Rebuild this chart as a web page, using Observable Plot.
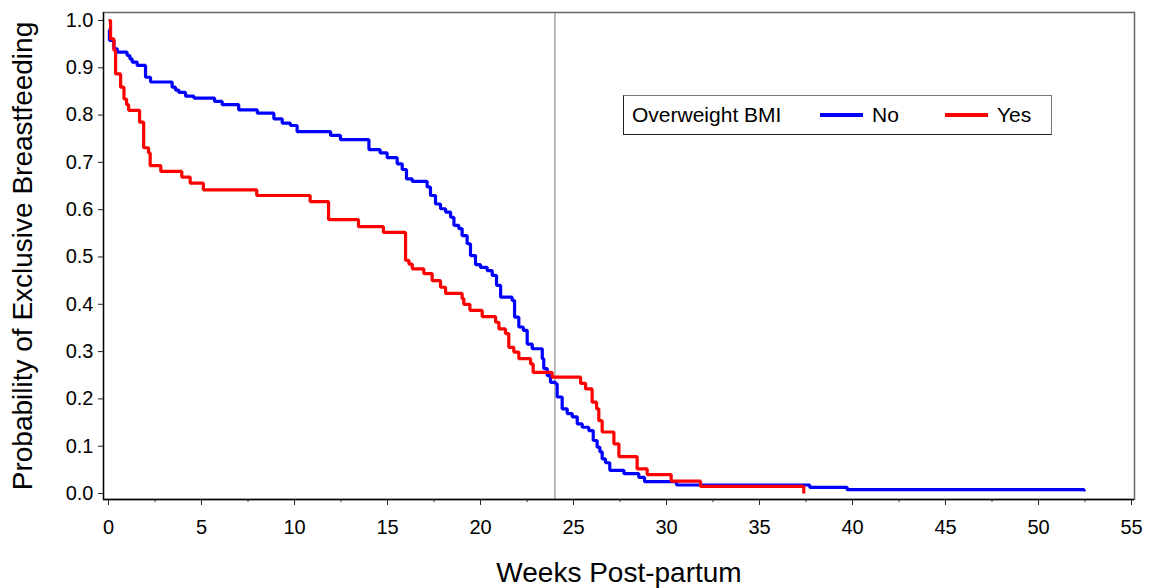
<!DOCTYPE html>
<html>
<head>
<meta charset="utf-8">
<script src="https://cdn.jsdelivr.net/npm/d3@7"></script>
<script src="https://cdn.jsdelivr.net/npm/@observablehq/plot@0.6"></script>
<style>
  html, body { margin: 0; padding: 0; background: #fff; }
  #wrap { position: relative; width: 1150px; height: 588px; font-family: "Liberation Sans", Arial, sans-serif; }
  #legend { position: absolute; left: 623px; top: 95px; width: 429px; height: 40px; box-sizing: border-box;
            border: 1px solid #777; border-left-color: #222; border-bottom-color: #222; background: #fff;
            font-size: 21px; color: #000; }
  #legend span { position: absolute; top: 0; line-height: 38px; white-space: nowrap; }
  #legend i { position: absolute; top: 17px; height: 4px; width: 43px; }
</style>
</head>
<body>
<div id="wrap">
  <div id="chart"></div>
  <div id="legend"></div>
</div>
<script>
// ---- Data ----
const seriesNames = ["No", "Yes"];
const seriesColors = ["#0000FF", "#FF0000"];
const legendTitle = "Overweight BMI";

const noWeeks = [0, 0.05, 0.29, 0.47, 1.0, 1.15, 1.27, 1.54, 1.99, 2.26, 3.42, 3.6, 3.78, 4.14, 4.59, 5.7, 6.11, 7.0, 8.0, 8.89,
  9.34, 9.78, 10.14, 11.94, 12.47, 14.0, 14.6, 14.98, 15.52, 15.79, 16.02, 16.33, 17.13, 17.31, 17.58, 17.85, 18.12, 18.39, 18.57, 18.83,
  19.01, 19.28, 19.46, 19.73, 20.0, 20.36, 20.63, 20.86, 21.08, 21.7, 21.83, 22.06, 22.3, 22.51, 22.78, 23.32, 23.4, 23.59, 23.76, 24.03,
  24.12, 24.39, 24.66, 24.93, 25.2, 25.47, 25.82, 26.06, 26.27, 26.42, 26.54, 26.72, 26.95, 27.71, 28.51, 28.82, 30.54, 37.7, 39.71, 52.45];
const noSurv = [0.98, 0.958, 0.94, 0.933, 0.926, 0.919, 0.912, 0.905, 0.88, 0.87, 0.859, 0.853, 0.848, 0.84, 0.836, 0.829, 0.822, 0.811, 0.804, 0.792,
  0.783, 0.778, 0.765, 0.757, 0.748, 0.727, 0.72, 0.71, 0.697, 0.685, 0.665, 0.66, 0.648, 0.63, 0.612, 0.602, 0.595, 0.584, 0.567, 0.56,
  0.545, 0.528, 0.503, 0.484, 0.478, 0.471, 0.461, 0.44, 0.415, 0.408, 0.373, 0.352, 0.345, 0.316, 0.306, 0.285, 0.264, 0.249, 0.235, 0.232,
  0.204, 0.179, 0.169, 0.162, 0.147, 0.14, 0.133, 0.112, 0.098, 0.088, 0.073, 0.065, 0.049, 0.042, 0.034, 0.025, 0.018, 0.013, 0.008, 0.004];

const yesWeeks = [0, 0.11, 0.29, 0.38, 0.65, 0.83, 0.97, 1.08, 1.67, 1.89, 2.15, 2.24, 2.81, 3.94, 4.39, 5.1, 7.97, 10.84, 11.83, 13.44,
  14.78, 15.97, 16.15, 16.33, 16.95, 17.4, 17.85, 18.12, 19.01, 19.1, 19.43, 20.09, 20.81, 20.99, 21.34, 21.52, 21.79, 22.06, 22.69, 22.83,
  23.85, 25.38, 25.65, 26.0, 26.24, 26.36, 26.54, 27.17, 27.44, 28.42, 28.96, 30.25, 31.83, 37.38];
const yesSurv = [1.0, 0.961, 0.937, 0.887, 0.859, 0.834, 0.822, 0.81, 0.785, 0.731, 0.72, 0.693, 0.681, 0.669, 0.656, 0.642, 0.63, 0.617, 0.579, 0.564,
  0.552, 0.493, 0.485, 0.475, 0.465, 0.45, 0.436, 0.423, 0.412, 0.4, 0.387, 0.374, 0.362, 0.348, 0.338, 0.309, 0.299, 0.285, 0.274, 0.256,
  0.246, 0.233, 0.221, 0.193, 0.179, 0.154, 0.13, 0.105, 0.078, 0.052, 0.04, 0.026, 0.015, 0.0];

const xTicks = [0, 5, 10, 15, 20, 25, 30, 35, 40, 45, 50, 55];
const xMinorTicks = [2.5, 7.5, 12.5, 17.5, 22.5, 27.5, 32.5, 37.5, 42.5, 47.5, 52.5];
const yTicks = [0, 0.1, 0.2, 0.3, 0.4, 0.5, 0.6, 0.7, 0.8, 0.9, 1.0];
const refWeek = [24];
const xTitle = "Weeks Post-partum";
const yTitle = "Probability of Exclusive Breastfeeding";

// ---- Build tables ----
const noData = noWeeks.map((w, i) => ({week: w, surv: noSurv[i]}));
const yesData = yesWeeks.map((w, i) => ({week: w, surv: yesSurv[i]}));

const xDomain = [-0.27, 55.16];
const yDomain = [-0.0127, 1.0169];
const font = "Liberation Sans, Arial, sans-serif";

const chart = Plot.plot({
  width: 1150,
  height: 588,
  marginLeft: 103,
  marginRight: 16,
  marginTop: 12,
  marginBottom: 89,
  style: {fontFamily: font, fontSize: "20px", color: "#000", background: "#fff"},
  x: {domain: xDomain, label: null},
  y: {domain: yDomain, label: null},
  marks: [
    Plot.frame({stroke: "#666", strokeWidth: 1.5}),
    Plot.ruleX(refWeek, {stroke: "#777", strokeWidth: 1}),
    Plot.ruleX([xDomain[0]], {stroke: "#000", strokeWidth: 1.3}),
    Plot.ruleY([yDomain[0]], {stroke: "#000", strokeWidth: 1.3}),
    Plot.line(noData, {x: "week", y: "surv", curve: "step-after", stroke: seriesColors[0], strokeWidth: 3.2, strokeLinejoin: "miter", strokeLinecap: "butt"}),
    Plot.line(yesData, {x: "week", y: "surv", curve: "step-after", stroke: seriesColors[1], strokeWidth: 3.2, strokeLinejoin: "miter", strokeLinecap: "butt"}),
    Plot.axisX(xTicks, {tickSize: 6, tickPadding: 14, tickFormat: d => String(d), stroke: "#222", fontSize: 20, label: null}),
    Plot.axisX(xMinorTicks, {tickSize: 3, tickFormat: () => "", stroke: "#222", label: null}),
    Plot.axisY(yTicks, {tickSize: 5, tickPadding: 5, tickFormat: d3.format(".1f"), stroke: "#222", fontSize: 20, label: null}),
    Plot.text([xTitle], {frameAnchor: "bottom", dy: 82, fontSize: 28, fill: "#000", text: d => d}),
    Plot.text([yTitle], {frameAnchor: "left", textAnchor: "middle", dx: -80, rotate: -90, fontSize: 28, fill: "#000", text: d => d})
  ]
});
document.getElementById("chart").appendChild(chart);

// ---- Legend ----
const legend = document.getElementById("legend");
const items = [
  {html: `<span style="left:8px">${legendTitle}</span>`},
  {html: `<i style="left:196px;background:${seriesColors[0]}"></i><span style="left:248px">${seriesNames[0]}</span>`},
  {html: `<i style="left:321px;background:${seriesColors[1]}"></i><span style="left:373px">${seriesNames[1]}</span>`}
];
legend.innerHTML = items.map(d => d.html).join("");
</script>
</body>
</html>
